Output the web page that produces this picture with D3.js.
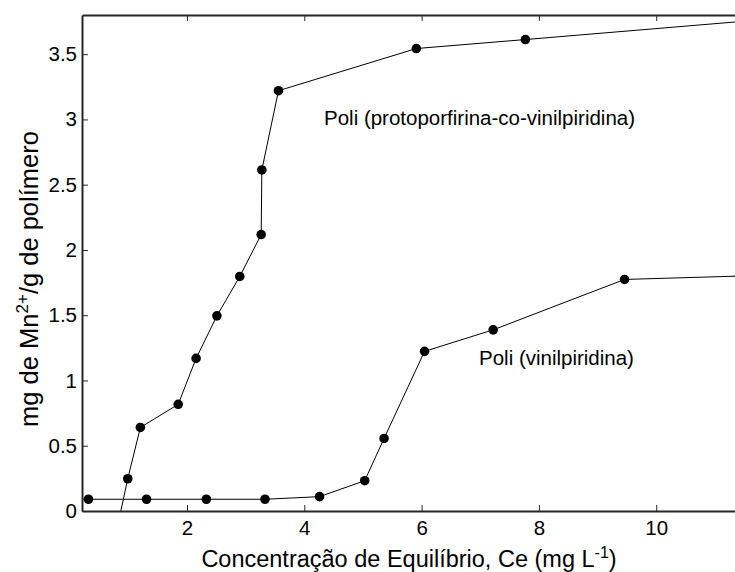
<!DOCTYPE html>
<html>
<head>
<meta charset="utf-8">
<script src="https://cdn.jsdelivr.net/npm/d3@7"></script>
<style>
  html, body { margin: 0; padding: 0; background: #fff; }
  svg { display: block; font-family: "Liberation Sans", Arial, sans-serif; }
</style>
</head>
<body>
<svg id="chart" width="735" height="572"></svg>
<script>
// Adsorption isotherms: Mn2+ uptake vs equilibrium concentration
const protoX = [0.80, 0.99, 1.205, 1.85, 2.155, 2.51, 2.90, 3.265, 3.276, 3.56, 5.91, 7.77, 11.6];
const protoY = [-0.15, 0.247, 0.64, 0.817, 1.169, 1.495, 1.797, 2.118, 2.613, 3.22, 3.543, 3.612, 3.756];

const vinilX = [-0.68, 0.32, 1.31, 2.33, 3.33, 4.26, 5.03, 5.36, 6.05, 7.22, 9.46, 11.42];
const vinilY = [0.09, 0.09, 0.09, 0.09, 0.09, 0.11, 0.232, 0.556, 1.223, 1.388, 1.774, 1.80];

const xTicks = [2, 4, 6, 8, 10];
const yTicks = [0, 0.5, 1, 1.5, 2, 2.5, 3, 3.5];

const seriesLabels = ["Poli (protoporfirina-co-vinilpiridina)", "Poli (vinilpiridina)"];

const svg = d3.select("#chart");
const plotL = 82, plotR = 736, plotT = 15, plotB = 511;

const x = d3.scaleLinear().domain([0.21, 11.36]).range([plotL, plotR]);
const y = d3.scaleLinear().domain([0, 3.8]).range([plotB, plotT]);

svg.append("defs").append("clipPath").attr("id", "plotClip")
  .append("rect").attr("x", plotL).attr("y", plotT)
  .attr("width", 800 - plotL).attr("height", plotB - plotT);

const plot = svg.append("g").attr("clip-path", "url(#plotClip)");

const line = d3.line().x(d => x(d[0])).y(d => y(d[1]));

function drawSeries(xs, ys) {
  const pts = xs.map((v, i) => [v, ys[i]]);
  plot.append("path").datum(pts)
    .attr("d", line)
    .attr("fill", "none")
    .attr("stroke", "#000")
    .attr("stroke-width", 1);
  plot.selectAll(null).data(pts).enter().append("circle")
    .attr("cx", d => x(d[0]))
    .attr("cy", d => y(d[1]))
    .attr("r", 4.8)
    .attr("fill", "#000");
}
drawSeries(protoX, protoY);
drawSeries(vinilX, vinilY);

// Axes with inward ticks (box style)
const frame = "#262626";
const tickLen = 6;
const fontTick = 20.5;
const fontFam = "'Liberation Sans', Arial, sans-serif";

const xAxisB = d3.axisBottom(x).tickValues(xTicks).tickSizeInner(-tickLen).tickSizeOuter(0).tickPadding(9);
const gxb = svg.append("g").attr("transform", `translate(0,${plotB})`).call(xAxisB);
const xAxisT = d3.axisTop(x).tickValues(xTicks).tickSizeInner(-tickLen).tickSizeOuter(0).tickFormat("");
const gxt = svg.append("g").attr("transform", `translate(0,${plotT})`).call(xAxisT);
const yAxisL = d3.axisLeft(y).tickValues(yTicks).tickSizeInner(-tickLen).tickSizeOuter(0).tickPadding(5)
  .tickFormat(d => String(d));
const gyl = svg.append("g").attr("transform", `translate(${plotL},0)`).call(yAxisL);

[gxb, gxt, gyl].forEach(g => {
  g.select(".domain").attr("stroke", frame).attr("stroke-width", 2);
  g.selectAll(".tick line").attr("stroke", frame).attr("stroke-width", 1);
  g.selectAll(".tick text").attr("fill", "#000").style("font-size", fontTick + "px")
    .style("font-family", fontFam);
});

// Series labels
svg.append("text").attr("x", 324).attr("y", 125)
  .style("font-size", "20.5px").attr("fill", "#000").text(seriesLabels[0]);
svg.append("text").attr("x", 479).attr("y", 365)
  .style("font-size", "20.5px").attr("fill", "#000").text(seriesLabels[1]);

// Axis titles
const xt = svg.append("text").attr("x", 409).attr("y", 567)
  .attr("text-anchor", "middle").style("font-size", "23.5px").attr("fill", "#000");
xt.append("tspan").text("Concentração de Equilíbrio, Ce (mg L");
xt.append("tspan").attr("dy", -9).style("font-size", "16px").text("-1");
xt.append("tspan").attr("dy", 9).text(")");

const yt = svg.append("text")
  .attr("transform", "translate(38,279) rotate(-90)")
  .attr("text-anchor", "middle").style("font-size", "25.5px").attr("fill", "#000");
yt.append("tspan").text("mg de Mn");
yt.append("tspan").attr("dy", -10).style("font-size", "17px").text("2+");
yt.append("tspan").attr("dy", 10).text("/g de polímero");
</script>
</body>
</html>
